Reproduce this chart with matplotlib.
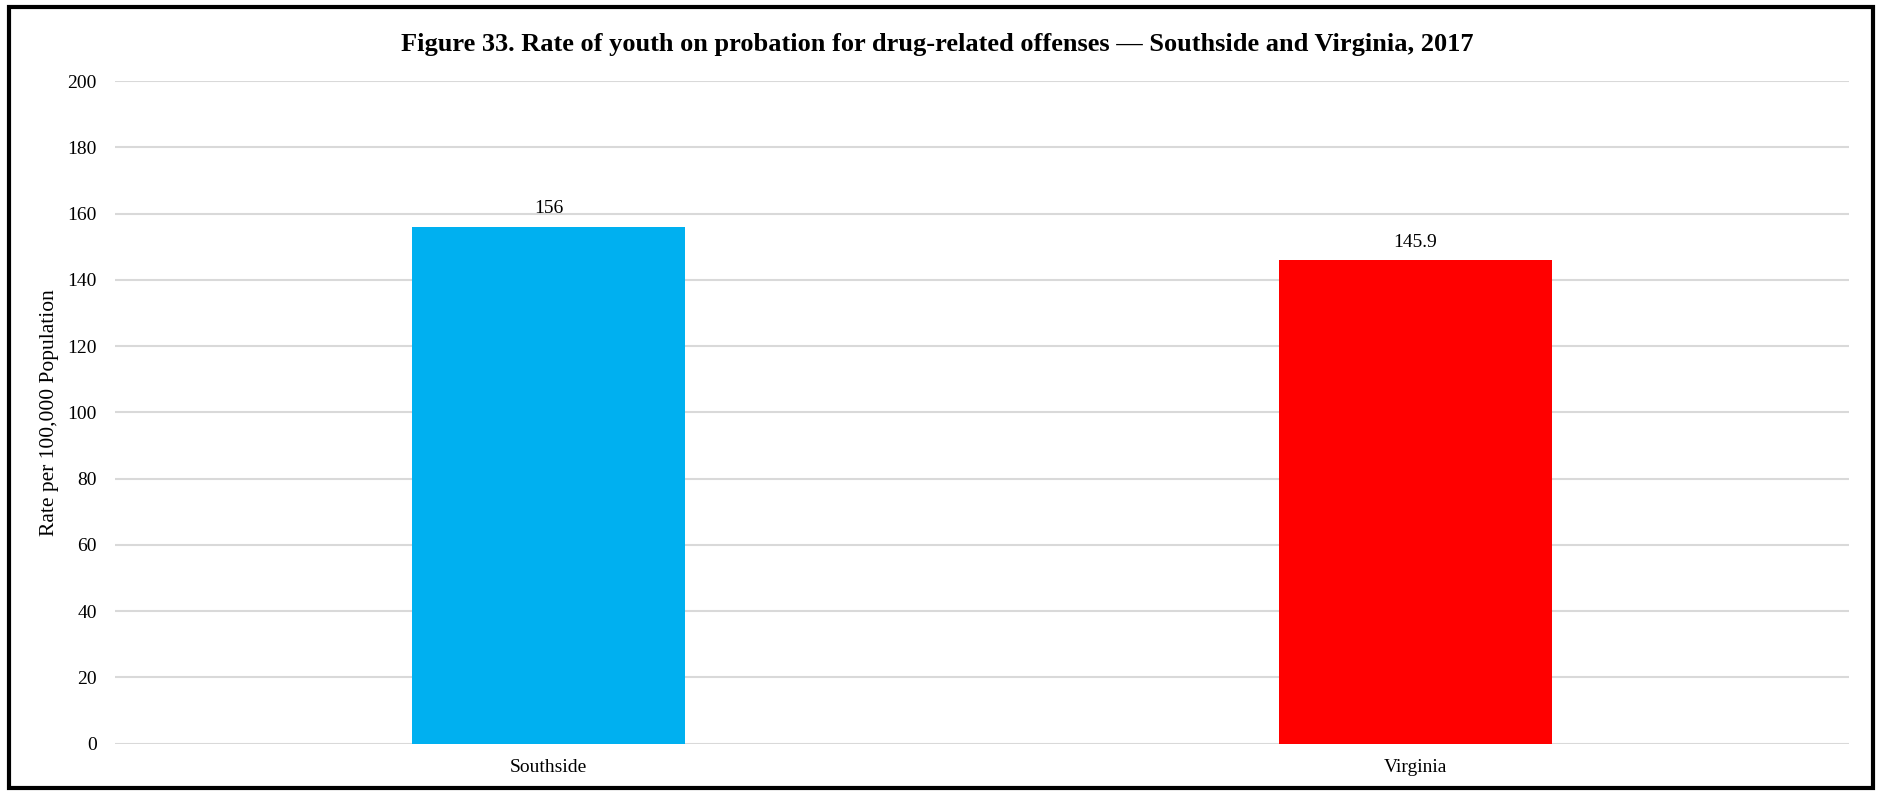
import matplotlib
matplotlib.use("Agg")
import matplotlib.pyplot as plt
from matplotlib.patches import Rectangle

# data
regions = ["Southside", "Virginia"]
rates = [156, 145.9]
rate_labels = ["156", "145.9"]
bar_colors = ["#00B0F0", "#FF0000"]
y_ticks = list(range(0, 201, 20))

plt.rcParams['font.family'] = ['Liberation Serif', 'DejaVu Serif']

W, H = 1883, 791
fig = plt.figure(figsize=(W / 100, H / 100), dpi=100)
ax = fig.add_axes([115 / W, 47.3 / H, (1849 - 115) / W, (743.7 - 81) / H])

bars = ax.bar(regions, rates, width=0.314, color=bar_colors, zorder=3)
ax.bar_label(bars, labels=rate_labels, padding=7, fontsize=14)

ax.set_xlim(-0.5, 1.5)
ax.set_ylim(0, 200)
ax.set_yticks(y_ticks)
ax.grid(axis='y', color='#d9d9d9', linewidth=1.5, zorder=0)
ax.tick_params(axis='y', length=0, labelsize=14, pad=13)
ax.tick_params(axis='x', length=0, labelsize=14, pad=11)
for s in ax.spines.values():
    s.set_visible(False)
ax.set_ylabel("Rate per 100,000 Population", fontsize=15.5, labelpad=6)

fig.text(0.498, 1 - 44 / H, "Figure 33. Rate of youth on probation for drug-related offenses \u2014 Southside and Virginia, 2017",
         ha='center', va='center', fontsize=19, fontweight='bold')

# black frame around the whole chart
fig.patches.append(Rectangle((9 / W, 1 - 788 / H), (1873 - 9) / W, (788 - 7) / H,
                             transform=fig.transFigure, fill=False,
                             edgecolor='black', linewidth=3))

fig.savefig("out.png", dpi=100)
